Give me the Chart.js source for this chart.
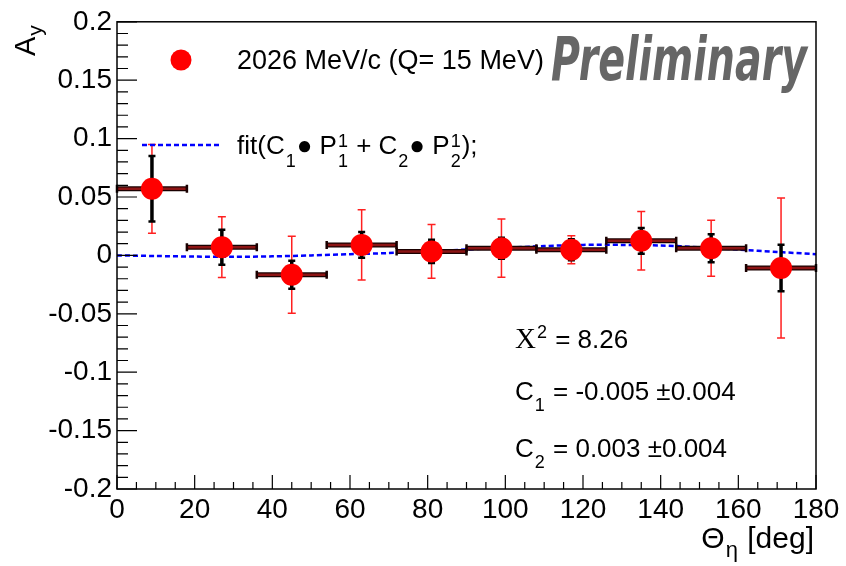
<!DOCTYPE html>
<html>
<head>
<meta charset="utf-8">
<script src="https://cdn.jsdelivr.net/npm/chart.js@4.4.1/dist/chart.umd.min.js"></script>
<style>
  html, body { margin: 0; padding: 0; background: #fff; }
  canvas { display: block; }
</style>
</head>
<body>
<canvas id="asymChart" width="846" height="566"></canvas>
<script>
// data
const thetaCenters = [9, 27, 45, 63, 81, 99, 117, 135, 153, 171];
const thetaHalfBin = [9, 9, 9, 9, 9, 9, 9, 9, 9, 9];
const ayValues = [0.057, 0.007, -0.0165, 0.009, 0.0034, 0.0062, 0.0048, 0.0125, 0.0062, -0.0108];
const statErr = [0.028, 0.015, 0.012, 0.011, 0.010, 0.009, 0.009, 0.011, 0.012, 0.020];
const totalErr = [0.038, 0.026, 0.033, 0.030, 0.023, 0.025, 0.012, 0.025, 0.024, 0.060];

// fit curve as drawn
const fitTheta = [0, 10, 20, 30, 40, 50, 60, 70, 80, 90, 100, 110, 120, 130, 140, 150, 160, 170, 180];
const fitAy = [0, -0.0005, -0.001, -0.0012, -0.0008, 0, 0.001, 0.002, 0.0035, 0.005, 0.0065, 0.008, 0.009, 0.009, 0.0085, 0.007, 0.005, 0.003, 0.001];

// axis ticks
const xTicks = [0, 20, 40, 60, 80, 100, 120, 140, 160, 180];
const yTicks = [-0.2, -0.15, -0.1, -0.05, 0, 0.05, 0.1, 0.15, 0.2];
const yTickLabels = ['-0.2', '-0.15', '-0.1', '-0.05', '0', '0.05', '0.1', '0.15', '0.2'];

const FONT = '"Liberation Sans", Arial, Helvetica, sans-serif';
const SERIF = '"Liberation Serif", "Times New Roman", serif';

// text with sub/superscripts, ROOT style
function drawRich(ctx, x, y, parts, size, supOff, subOff, subSize) {
    let cx = x;
    ctx.textAlign = 'left';
    ctx.textBaseline = 'alphabetic';
    for (const p of parts) {
        ctx.font = (p.serifSize || size) + 'px ' + (p.serif ? SERIF : FONT);
        ctx.fillText(p.t, cx, y);
        cx += ctx.measureText(p.t).width;
        let w = 0;
        ctx.font = (subSize || Math.round(size * 0.7)) + 'px ' + FONT;
        if (p.sup) {
            ctx.fillText(p.sup, cx + 1, y - supOff);
            w = Math.max(w, ctx.measureText(p.sup).width + 2);
        }
        if (p.sub) {
            ctx.fillText(p.sub, cx + 1, y + subOff);
            w = Math.max(w, ctx.measureText(p.sub).width + 2);
        }
        cx += w;
    }
    return cx;
}

const rootStyle = {
    id: 'rootStyle',
    beforeDatasetDraw(chart, args) {
        if (args.index !== 0) return;
        const ctx = chart.ctx;
        const xs = chart.scales.x, ys = chart.scales.y;
        ctx.save();
        for (let i = 0; i < thetaCenters.length; i++) {
            const cx = xs.getPixelForValue(thetaCenters[i]);
            const cy = ys.getPixelForValue(ayValues[i]);
            const x0 = xs.getPixelForValue(thetaCenters[i] - thetaHalfBin[i]);
            const x1 = xs.getPixelForValue(thetaCenters[i] + thetaHalfBin[i]);

            // bin width bar
            ctx.strokeStyle = '#1a0000';
            ctx.lineWidth = 5;
            ctx.beginPath(); ctx.moveTo(x0, cy); ctx.lineTo(x1, cy); ctx.stroke();
            ctx.strokeStyle = '#8c1414';
            ctx.lineWidth = 2.5;
            ctx.beginPath(); ctx.moveTo(x0 + 1, cy); ctx.lineTo(x1 - 1, cy); ctx.stroke();
            ctx.strokeStyle = '#1a0000';
            ctx.lineWidth = 2.5;
            ctx.beginPath();
            ctx.moveTo(x0, cy - 4); ctx.lineTo(x0, cy + 4);
            ctx.moveTo(x1, cy - 4); ctx.lineTo(x1, cy + 4);
            ctx.stroke();

            // total error (red)
            const rt = ys.getPixelForValue(ayValues[i] + totalErr[i]);
            const rb = ys.getPixelForValue(ayValues[i] - totalErr[i]);
            ctx.strokeStyle = '#ff2020';
            ctx.lineWidth = 1.5;
            ctx.beginPath();
            ctx.moveTo(cx, rt); ctx.lineTo(cx, rb);
            ctx.moveTo(cx - 4, rt); ctx.lineTo(cx + 4, rt);
            ctx.moveTo(cx - 4, rb); ctx.lineTo(cx + 4, rb);
            ctx.stroke();

            // statistical error (black)
            const st = ys.getPixelForValue(ayValues[i] + statErr[i]);
            const sb = ys.getPixelForValue(ayValues[i] - statErr[i]);
            ctx.strokeStyle = '#000';
            ctx.lineWidth = 3.5;
            ctx.beginPath(); ctx.moveTo(cx, st); ctx.lineTo(cx, sb); ctx.stroke();
            ctx.lineWidth = 2.5;
            ctx.beginPath();
            ctx.moveTo(cx - 3.5, st); ctx.lineTo(cx + 3.5, st);
            ctx.moveTo(cx - 3.5, sb); ctx.lineTo(cx + 3.5, sb);
            ctx.stroke();
        }
        ctx.restore();
    },
    afterDraw(chart) {
        const ctx = chart.ctx;
        const a = chart.chartArea;
        const xs = chart.scales.x, ys = chart.scales.y;
        ctx.save();

        // frame
        ctx.strokeStyle = '#000';
        ctx.lineWidth = 1.5;
        ctx.strokeRect(a.left, a.top, a.right - a.left, a.bottom - a.top);

        // inner ticks
        ctx.lineWidth = 1.2;
        ctx.beginPath();
        for (let k = -20; k <= 20; k++) {
            const py = ys.getPixelForValue(k / 100);
            const len = (k % 5 === 0) ? 20 : 11;
            ctx.moveTo(a.left, py); ctx.lineTo(a.left + len, py);
        }
        for (let d = 0; d <= 180; d += 5) {
            const px = xs.getPixelForValue(d);
            const len = (d % 20 === 0) ? 14 : 7;
            ctx.moveTo(px, a.bottom); ctx.lineTo(px, a.bottom - len);
        }
        ctx.stroke();

        ctx.fillStyle = '#000';

        // axis titles
        ctx.font = '30px ' + FONT;
        const wTheta = ctx.measureText('\u0398').width;
        const wDeg = ctx.measureText(' [deg]').width;
        ctx.font = '22px ' + FONT;
        const wEta = ctx.measureText('\u03B7').width;
        let tx = 814 - wTheta - wEta - 2 - wDeg;
        drawRich(ctx, tx, 548, [{t: '\u0398', sub: '\u03B7'}, {t: ' [deg]'}], 30, 0, 9, 22);

        ctx.save();
        ctx.translate(35, 56);
        ctx.rotate(-Math.PI / 2);
        drawRich(ctx, 0, 0, [{t: 'A', sub: 'y'}], 29, 0, 7, 21);
        ctx.restore();

        // legend
        ctx.fillStyle = '#ff0000';
        ctx.beginPath(); ctx.arc(181, 60, 10.5, 0, Math.PI * 2); ctx.fill();
        ctx.fillStyle = '#000';
        ctx.font = '27px ' + FONT;
        ctx.fillText('2026 MeV/c (Q= 15 MeV)', 237, 69);

        ctx.strokeStyle = '#0000ff';
        ctx.lineWidth = 2.5;
        ctx.setLineDash([5, 3]);
        ctx.beginPath(); ctx.moveTo(142, 145); ctx.lineTo(220, 145); ctx.stroke();
        ctx.setLineDash([]);
        drawRich(ctx, 237, 154, [
            {t: 'fit(C', sub: '1'},
            {t: '\u25CF P', sup: '1', sub: '1'},
            {t: ' + C', sub: '2'},
            {t: '\u25CF P', sup: '1', sub: '2'},
            {t: ');'}
        ], 26, 7, 13, 18);

        // fit results
        drawRich(ctx, 515, 348, [{t: '\u03A7', serif: true, serifSize: 29, sup: '2'}, {t: ' = 8.26'}], 26, 10, 10, 18);
        drawRich(ctx, 515, 400, [{t: 'C', sub: '1'}, {t: ' = -0.005 \u00B10.004'}], 26, 10, 11, 18);
        drawRich(ctx, 515, 457, [{t: 'C', sub: '2'}, {t: ' = 0.003 \u00B10.004'}], 26, 10, 11, 18);

        // watermark
        ctx.fillStyle = '#666666';
        ctx.font = 'bold italic 60px "DejaVu Sans Condensed", "DejaVu Sans", sans-serif';
        ctx.fillText('Preliminary', 551, 80, 256);

        ctx.restore();
    }
};

const ctx = document.getElementById('asymChart');

new Chart(ctx, {
    type: 'scatter',
    data: {
        datasets: [{
            label: '2026 MeV/c (Q= 15 MeV)',
            data: thetaCenters.map((t, i) => ({x: t, y: ayValues[i]})),
            backgroundColor: '#ff0000',
            borderWidth: 0,
            pointRadius: 11,
            pointHoverRadius: 11
        }, {
            label: 'fit',
            data: fitTheta.map((t, i) => ({x: t, y: fitAy[i]})),
            showLine: true,
            borderColor: '#0000ff',
            borderWidth: 2.5,
            borderDash: [5, 3],
            pointRadius: 0,
            tension: 0.3,
            fill: false
        }]
    },
    options: {
        responsive: false,
        animation: false,
        devicePixelRatio: 1,
        layout: {padding: {top: 20, right: 30, left: 0, bottom: 0}},
        plugins: {legend: {display: false}, tooltip: {enabled: false}},
        scales: {
            x: {
                type: 'linear',
                min: 0,
                max: 180,
                afterBuildTicks: (s) => { s.ticks = xTicks.map(v => ({value: v})); },
                afterFit: (s) => { s.height = 77; },
                grid: {display: false, drawTicks: false},
                border: {display: false},
                ticks: {
                    color: '#000',
                    padding: 4,
                    maxRotation: 0,
                    autoSkip: false,
                    font: {size: 28, family: FONT}
                }
            },
            y: {
                min: -0.2,
                max: 0.2,
                afterBuildTicks: (s) => { s.ticks = yTicks.map(v => ({value: v})); },
                afterFit: (s) => { s.width = 117; },
                grid: {display: false, drawTicks: false},
                border: {display: false},
                ticks: {
                    color: '#000',
                    padding: 5,
                    autoSkip: false,
                    font: {size: 28, family: FONT},
                    callback: (v, i) => yTickLabels[i]
                }
            }
        }
    },
    plugins: [rootStyle]
});
</script>
</body>
</html>
